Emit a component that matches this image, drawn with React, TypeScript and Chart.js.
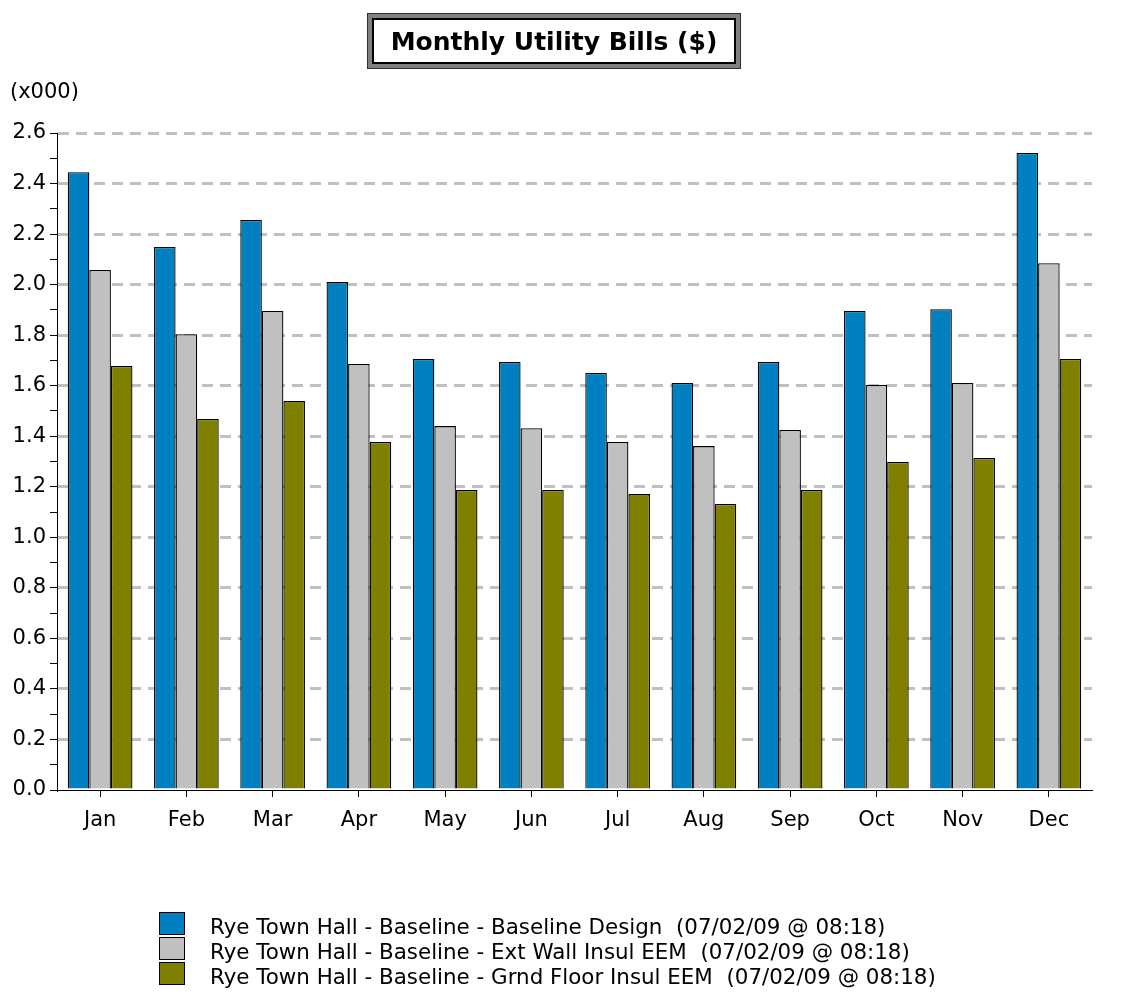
import React, { useEffect, useRef } from "react";
import { Chart, registerables } from "chart.js";

Chart.register(...registerables);

const months = ["Jan", "Feb", "Mar", "Apr", "May", "Jun", "Jul", "Aug", "Sep", "Oct", "Nov", "Dec"];
const baselineDesign = [2.445, 2.149, 2.256, 2.01, 1.706, 1.694, 1.65, 1.611, 1.694, 1.896, 1.903, 2.521];
const extWallInsul = [2.058, 1.804, 1.896, 1.686, 1.44, 1.432, 1.377, 1.361, 1.425, 1.603, 1.611, 2.085];
const grndFloorInsul = [1.678, 1.468, 1.539, 1.377, 1.187, 1.187, 1.171, 1.132, 1.187, 1.298, 1.314, 1.706];
const seriesLabels = [
  "Rye Town Hall - Baseline - Baseline Design  (07/02/09 @ 08:18)",
  "Rye Town Hall - Baseline - Ext Wall Insul EEM  (07/02/09 @ 08:18)",
  "Rye Town Hall - Baseline - Grnd Floor Insul EEM  (07/02/09 @ 08:18)",
];
const titleText = "Monthly Utility Bills ($)";
const unitText = "(x000)";

const FONT = "'DejaVu Sans', Verdana, sans-serif";

const decorPlugin = {
  id: "decor",
  afterDraw(chart: any) {
    const ctx = chart.ctx as CanvasRenderingContext2D;
    ctx.save();
    // Title box
    const bx = 367, by = 13, bw = 374, bh = 56;
    ctx.fillStyle = "#808080";
    ctx.fillRect(bx, by, bw, bh);
    ctx.strokeStyle = "#303030";
    ctx.lineWidth = 1;
    ctx.strokeRect(bx + 0.5, by + 0.5, bw - 1, bh - 1);
    ctx.fillStyle = "#000";
    ctx.fillRect(bx + 5, by + 5, bw - 10, bh - 10);
    ctx.fillStyle = "#fff";
    ctx.fillRect(bx + 7, by + 7, bw - 14, bh - 14);
    ctx.fillStyle = "#000";
    ctx.font = `bold 25px ${FONT}`;
    ctx.textAlign = "center";
    ctx.textBaseline = "middle";
    ctx.fillText(titleText, bx + bw / 2, by + bh / 2 + 2);

    // unit label
    ctx.font = `21px ${FONT}`;
    ctx.textAlign = "left";
    ctx.fillText(unitText, 10, 93);

    // legend
    const datasets = chart.data.datasets;
    ctx.font = `21.4px ${FONT}`;
    datasets.forEach((ds: any, i: number) => {
      const y = 912 + i * 25;
      ctx.fillStyle = ds.backgroundColor;
      ctx.fillRect(159, y, 26, 23);
      ctx.strokeStyle = "#000";
      ctx.lineWidth = 1;
      ctx.strokeRect(159.5, y + 0.5, 25, 22);
      ctx.fillStyle = "#000";
      ctx.textBaseline = "middle";
      ctx.fillText(ds.label, 210, y + 16);
    });
    ctx.restore();
  },
};

const isMajor = (v: number) => Math.round(v * 10) % 2 === 0;

export default function App() {
  const ref = useRef<HTMLCanvasElement | null>(null);
  useEffect(() => {
    if (!ref.current) return;
    const chart = new Chart(ref.current, {
      type: "bar",
      data: {
        labels: months,
        datasets: [
          { label: seriesLabels[0], data: baselineDesign, backgroundColor: "#0080C0", borderColor: "#000", borderWidth: 1.3 },
          { label: seriesLabels[1], data: extWallInsul, backgroundColor: "#C0C0C0", borderColor: "#000", borderWidth: 1.3 },
          { label: seriesLabels[2], data: grndFloorInsul, backgroundColor: "#808000", borderColor: "#000", borderWidth: 1.3 },
        ],
      },
      options: {
        animation: false,
        responsive: true,
        maintainAspectRatio: false,
        layout: { padding: { left: 0, right: 56, top: 133, bottom: 165 } },
        datasets: { bar: { categoryPercentage: 0.75, barPercentage: 1.0 } },
        plugins: { legend: { display: false }, title: { display: false }, tooltip: { enabled: false } },
        scales: {
          x: {
            offset: true,
            afterFit: (s: any) => { s.height = 40; },
            grid: { display: true, drawOnChartArea: false, offset: false, tickLength: 7, tickColor: "#000", tickWidth: 1 },
            border: { display: true, color: "#000", width: 1 },
            ticks: { color: "#000", font: { family: FONT, size: 21 }, padding: 11 },
          },
          y: {
            min: 0,
            max: 2.6,
            afterFit: (s: any) => { s.width = 57; },
            ticks: {
              stepSize: 0.1,
              autoSkip: false,
              color: "#000",
              font: { family: FONT, size: 21 },
              padding: 4,
              callback: (v: any) => (isMajor(Number(v)) ? Number(v).toFixed(1) : ""),
            },
            grid: {
              color: (c: any) => (c.tick && isMajor(c.tick.value) && c.tick.value > 0.01 ? "#C0C0C0" : "rgba(0,0,0,0)"),
              lineWidth: 3,
              tickColor: "#000",
              tickWidth: 1,
              tickLength: 7,
              tickBorderDash: [],
            },
            border: { display: true, color: "#000", width: 1, dash: [11, 7] },
          },
        },
      },
      plugins: [decorPlugin],
    } as any);
    return () => chart.destroy();
  }, []);
  return (
    <div style={{ position: "fixed", left: 0, top: 0, width: 1148, height: 995, background: "#fff" }}>
      <canvas ref={ref} />
    </div>
  );
}
